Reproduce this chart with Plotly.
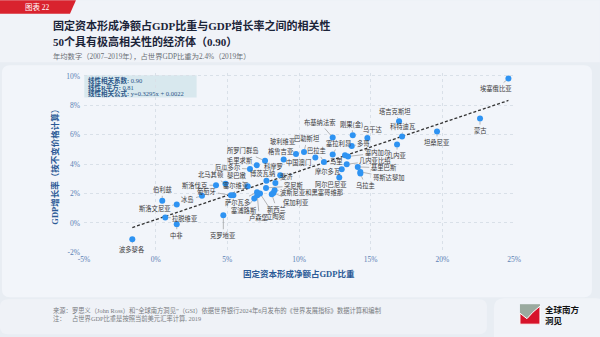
import plotly.graph_objects as go

# ---------------- data ----------------
economies = ["埃塞俄比亚", "蒙古", "坦桑尼亚", "塔吉克斯坦", "科特迪瓦", "几内亚", "乌干达", "刚果(金)",
             "布基纳法索", "多哥", "塞拉利昂", "马里", "塞内加尔", "几内亚比绍", "摩尔多瓦", "基里巴斯",
             "哥斯达黎加", "乌拉圭", "阿尔巴尼亚", "中国澳门", "巴拉圭", "巴勒斯坦", "玻利维亚", "格鲁吉亚",
             "所罗门群岛", "毛里求斯", "厄瓜多尔", "科摩罗", "博茨瓦纳", "斐济", "突尼斯", "波斯尼亚和黑塞哥维那",
             "保加利亚", "新西兰", "立陶宛", "卢森堡", "塞浦路斯", "萨尔瓦多", "塞尔维亚", "葡萄牙",
             "黎巴嫩", "北马其顿", "斯洛伐克", "冰岛", "伯利兹", "斯洛文尼亚", "拉脱维亚", "中非",
             "波多黎各", "克罗地亚"]
gfcf_share_pct = [24.61, 22.63, 19.63, 16.98, 17.19, 16.84, 14.77, 13.75,
                  12.35, 13.68, 12.35, 13.21, 13.42, 13.33, 12.98, 14.10,
                  14.28, 14.28, 12.81, 11.14, 11.74, 10.35, 9.79, 8.93,
                  7.63, 7.05, 6.58, 8.69, 7.73, 8.35, 7.70, 8.30,
                  8.21, 8.10, 7.28, 7.09, 6.88, 7.07, 5.42, 5.25,
                  6.42, 4.87, 4.21, 3.23, 0.46, 1.47, 0.67, 1.47,
                  -1.63, 4.72]
gdp_growth_pct = [9.82, 7.10, 6.22, 6.92, 5.88, 5.33, 5.78, 5.97,
                  5.81, 5.24, 4.65, 4.61, 4.52, 3.99, 3.65, 3.81,
                  3.47, 3.36, 3.09, 4.45, 4.15, 4.83, 4.69, 4.31,
                  4.22, 3.93, 3.67, 3.24, 2.86, 2.72, 2.38, 2.22,
                  2.04, 1.95, 2.00, 1.88, 1.66, 2.09, 1.88, 1.88,
                  2.50, 2.66, 2.56, 1.84, 1.50, 1.25, 0.37, -0.09,
                  -1.11, 0.52]
trend_slope = 0.3295
trend_intercept_pct = 0.22
x_ticks = [-5, 0, 5, 10, 15, 20, 25]
x_tick_labels = ["-5%", "0%", "5%", "10%", "15%", "20%", "25%"]
y_ticks = [-2, 0, 2, 4, 6, 8, 10]
y_tick_labels = ["-2%", "0%", "2%", "4%", "6%", "8%", "10%"]

# label offsets in pixels (style, not data)
label_offsets = {
    "埃塞俄比亚": (-12, 10), "蒙古": (0, 12), "坦桑尼亚": (0, 11), "塔吉克斯坦": (-4, -10),
    "科特迪瓦": (1, -10), "几内亚": (0, 11), "乌干达": (6, -8), "刚果(金)": (-1, -11),
    "布基纳法索": (-13, -15), "多哥": (12, -2), "塞拉利昂": (6, -11), "马里": (-9, 6),
    "塞内加尔": (29, -3.5), "几内亚比绍": (28, -3.5), "摩尔多瓦": (-14, 2), "基里巴斯": (26, 1),
    "哥斯达黎加": (28, 5.5), "乌拉圭": (5, 12), "阿尔巴尼亚": (-8, 7), "中国澳门": (-17, 5),
    "巴拉圭": (-7, -11), "巴勒斯坦": (3, -13), "玻利维亚": (-13, -12), "格鲁吉亚": (-3, -8),
    "所罗门群岛": (-23, -10), "毛里求斯": (-17, -5), "厄瓜多尔": (-22, -1), "科摩罗": (-7, -9),
    "博茨瓦纳": (-4, -7), "斐济": (11, -6), "突尼斯": (28, -2), "波斯尼亚和黑塞哥维那": (37, 2),
    "保加利亚": (23, 9.5), "新西兰": (5, 15), "立陶宛": (15, 23), "卢森堡": (2, 22),
    "塞浦路斯": (-10, 12), "萨尔瓦多": (-20, 10), "塞尔维亚": (3, -10), "葡萄牙": (-24, -4),
    "黎巴嫩": (-11, -11), "北马其顿": (-14, -9), "斯洛伐克": (-21, 0), "冰岛": (-14, 4),
    "伯利兹": (0, -11), "斯洛文尼亚": (-22, 4), "拉脱维亚": (20, 1), "中非": (0, 11),
    "波多黎各": (0, 10), "克罗地亚": (0, 20),
}

# ---------------- layout geometry ----------------
FIG_W, FIG_H = 600, 337
L, T, W, H = 84.05, 72.8, 430.0, 180.0

def px(x):
    return (x - L) / W

def py(y):
    return 1 - (y - T) / H

def rrect(x0, y0, x1, y1, r):
    pts = [
        f"M {px(x0 + r)} {py(y0)}", f"L {px(x1 - r)} {py(y0)}",
        f"Q {px(x1)} {py(y0)} {px(x1)} {py(y0 + r)}", f"L {px(x1)} {py(y1 - r)}",
        f"Q {px(x1)} {py(y1)} {px(x1 - r)} {py(y1)}", f"L {px(x0 + r)} {py(y1)}",
        f"Q {px(x0)} {py(y1)} {px(x0)} {py(y1 - r)}", f"L {px(x0)} {py(y0 + r)}",
        f"Q {px(x0)} {py(y0)} {px(x0 + r)} {py(y0)}", "Z"]
    return " ".join(pts)

def poly(points):
    s = " ".join(("M" if i == 0 else "L") + f" {px(a)} {py(b)}" for i, (a, b) in enumerate(points))
    return s + " Z"

CJK = "Noto Sans CJK SC"
MIX = "Liberation Serif, Noto Sans CJK SC"

fig = go.Figure()

# trend line from formula shown on chart
xs_tr = [min(gfcf_share_pct), max(gfcf_share_pct)]
ys_tr = [trend_slope * v + trend_intercept_pct for v in xs_tr]
fig.add_trace(go.Scatter(x=xs_tr, y=ys_tr, mode="lines",
                         line=dict(color="#333333", width=1.3, dash="3px,2px"),
                         hoverinfo="skip", showlegend=False))

fig.add_trace(go.Scatter(x=gfcf_share_pct, y=gdp_growth_pct, mode="markers", text=economies,
                         marker=dict(color="#2e93f2", size=6), showlegend=False))

shapes = []
# background panels
shapes.append(dict(type="rect", xref="paper", yref="paper", x0=px(0), x1=px(600), y0=py(0), y1=py(62),
                   fillcolor="#f0f3f8", line_width=0, layer="below"))
shapes.append(dict(type="path", xref="paper", yref="paper", path=rrect(2, 65, 592, 297, 8),
                   fillcolor="#f2f5fa", line_width=0, layer="below"))
shapes.append(dict(type="path", xref="paper", yref="paper", path=rrect(0, 299, 487, 334, 8),
                   fillcolor="#eff2f7", line_width=0, layer="below"))
shapes.append(dict(type="path", xref="paper", yref="paper", path=rrect(494, 298, 606, 345, 10),
                   fillcolor="#f0f3f8", line_width=0, layer="below"))
# red tab
shapes.append(dict(type="path", xref="paper", yref="paper",
                   path=poly([(0, 0), (76, 0), (70, 13.5), (0, 13.5)]),
                   fillcolor="#d9232e", line_width=0, layer="below"))
# stats box (covers the grid)
shapes.append(dict(type="rect", xref="paper", yref="paper", x0=px(84.3), x1=px(196.7), y0=py(75), y1=py(97.3),
                   fillcolor="#d8e8ee", line_width=0, layer="between"))
# logo icon
shapes.append(dict(type="rect", xref="paper", yref="paper", x0=px(520), x1=px(540), y0=py(304), y1=py(324),
                   fillcolor="#9aaa9f", line_width=0, layer="above"))
shapes.append(dict(type="path", xref="paper", yref="paper",
                   path=poly([(520, 313), (527, 318.5), (533, 312), (540, 306), (540, 324), (520, 324)]),
                   fillcolor="#d7142a", line=dict(color="white", width=1), layer="above"))

ann = []
# point labels
for name, xv, yv in zip(economies, gfcf_share_pct, gdp_growth_pct):
    dx, dy = label_offsets[name]
    ann.append(dict(x=xv, y=yv, xref="x", yref="y", text=name, showarrow=True, arrowhead=0,
                    arrowwidth=0.6, arrowcolor="#8a8a8a", ax=dx, ay=dy, standoff=3,
                    font=dict(family=CJK, size=6.3, color="#3a3a3a")))

def txt(x, y, text, size, color, family=MIX, xanchor="left", **kw):
    ann.append(dict(x=px(x), y=py(y), xref="paper", yref="paper", text=text, showarrow=False,
                    xanchor=xanchor, yanchor="middle", font=dict(family=family, size=size, color=color), **kw))

# stats box text
txt(86, 80.7, "<b>线性相关系数:</b> 0.90", 6.5, "#2a5688")
txt(86, 87.2, "<b>线性R平方:</b> 0.81", 6.5, "#2a5688")
txt(86, 93.7, "<b>线性相关公式:</b> y=0.3295x + 0.0022", 6.5, "#2a5688")

# header
txt(23, 7, "图表 22", 7.5, "#ffffff")
txt(51, 25, "<b>固定资本形成净额占GDP比重与GDP增长率之间的相关性</b>", 11, "#1b2438")
txt(51, 41, "<b>50个具有极高相关性的经济体（0.90）</b>", 11, "#1b2438")
txt(51, 56, "年均数字（2007–2019年），占世界GDP比重为2.4%（2019年）", 7.3, "#6b6f76")

# axis titles
txt(299.5, 274, "<b>固定资本形成净额占GDP比重</b>", 8.5, "#2b5a96", xanchor="center")
ann.append(dict(x=px(55.5), y=py(164), xref="paper", yref="paper", text="<b>GDP增长率（按不变价格计算）</b>",
                showarrow=False, textangle=-90, xanchor="center", yanchor="middle",
                font=dict(family=MIX, size=8.5, color="#2b5a96")))

# footer
txt(51, 310.5, "来源：罗思义（John Ross）和\u201c全球南方洞见\u201d（GSI）依据世界银行2024年6月发布的《世界发展指标》数据计算和编制",
    6.3, "#7a7d82")
txt(51, 318.7, "注：", 6.3, "#7a7d82")
txt(70, 318.7, "占世界GDP比重是按照当前美元汇率计算, 2019", 6.3, "#7a7d82")
# logo text
txt(543, 309, "<b>全球南方</b>", 8.5, "#111111", family=CJK)
txt(543, 319.5, "<b>洞见</b>", 8.5, "#111111", family=CJK)

axis_common = dict(showline=False, zeroline=False, gridcolor="#d9e0e8", griddash="dot", gridwidth=1,
                   tickfont=dict(family="Liberation Serif", size=7.5, color="#5b80b4"), ticks="")

fig.update_layout(
    width=FIG_W, height=FIG_H,
    margin=dict(l=L, r=FIG_W - L - W, t=T, b=FIG_H - T - H, pad=0),
    paper_bgcolor="#e8edf3", plot_bgcolor="rgba(0,0,0,0)",
    xaxis=dict(range=[-5, 25], tickvals=x_ticks, ticktext=x_tick_labels, **axis_common),
    yaxis=dict(range=[-2.05, 10.2], tickvals=y_ticks, ticktext=y_tick_labels, ticklabelstandoff=3,
               **axis_common),
    shapes=shapes, annotations=ann, showlegend=False,
)

fig.write_html("out.html")
